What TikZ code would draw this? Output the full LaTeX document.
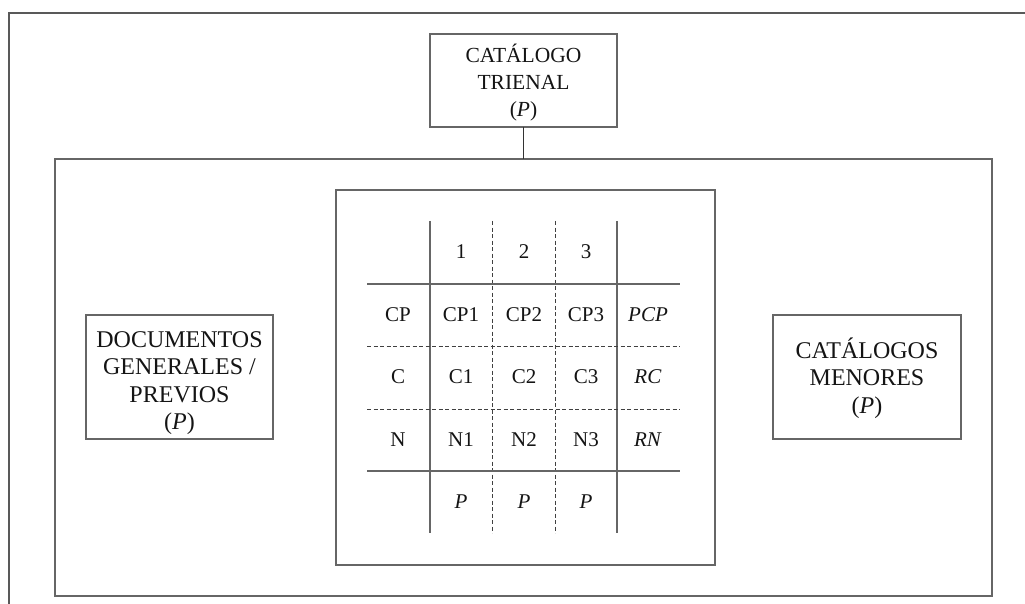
\documentclass[tikz,border=0pt]{standalone}
\usepackage{fontspec}
\setmainfont{Liberation Serif}
\begin{document}
\begin{tikzpicture}[x=1pt,y=-1pt,
  frame/.style={draw=black!65,line width=1.4pt},
  boxa/.style={draw=black!60,line width=1.2pt,inner sep=0pt,outer sep=0pt},
  txt/.style={align=center,inner sep=0pt,text=black!92},
  solidln/.style={draw=black!60,line width=1.1pt},
  dashln/.style={draw=black!75,line width=0.9pt,dash pattern=on 4pt off 2.5pt},
  cell/.style={font=\fontsize{21}{26}\selectfont,text=black!92,inner sep=0pt}]
\useasboundingbox (0,0) rectangle (1025,604);
% outer frame fragments
\coordinate (fr1) at (4,13);
\coordinate (fr2) at (1025,13);
\coordinate (fr3) at (9,604);
\draw[frame] (fr2) -- (fr1 -| fr3) -- (fr3);
% boxes
\node[boxa,minimum width=187pt,minimum height=93pt] (top) at (523.5,80.5) {};
\node[txt,font=\fontsize{21.5}{26.7}\selectfont] (toptxt) at ([yshift=-2pt]top.center) {CATÁLOGO\\TRIENAL\\(\textit{P})};
\node[boxa,minimum width=937pt,minimum height=437pt] (big) at (523.5,377.5) {};
\node[boxa,minimum width=379pt,minimum height=375pt] (inner) at (525.5,377.5) {};
\node[boxa,minimum width=187pt,minimum height=124pt] (left) at (179.5,377) {};
\node[txt,font=\fontsize{24}{27.3}\selectfont] (lefttxt) at ([yshift=-6pt]left.center) {DOCUMENTOS\\GENERALES /\\PREVIOS\\(\textit{P})};
\node[boxa,minimum width=188pt,minimum height=124pt] (right) at (867,377) {};
\node[txt,font=\fontsize{24}{27.3}\selectfont] (righttxt) at ([yshift=-1pt]right.center) {CATÁLOGOS\\MENORES\\(\textit{P})};
\draw[line width=0.9pt,black!80] (top.south) -- (big.north);
% table grid
\coordinate (c1) at (430,221);
\coordinate (c2) at (492,221);
\coordinate (c3) at (555,221);
\coordinate (c4) at (617,221);
\coordinate (b1) at (430,533);
\coordinate (b2) at (492,533);
\coordinate (b3) at (555,533);
\coordinate (b4) at (617,533);
\coordinate (h1a) at (367,284); \coordinate (h1b) at (680,284);
\coordinate (h2a) at (367,346); \coordinate (h2b) at (680,346);
\coordinate (h3a) at (367,409); \coordinate (h3b) at (680,409);
\coordinate (h4a) at (367,471); \coordinate (h4b) at (680,471);
\draw[solidln] (c1) -- (b1);
\draw[solidln] (c4) -- (b4);
\draw[dashln] (c2) -- (b2);
\draw[dashln] (c3) -- (b3);
\draw[solidln] (h1a) -- (h1b);
\draw[solidln] (h4a) -- (h4b);
\draw[dashln] (h2a) -- (h2b);
\draw[dashln] (h3a) -- (h3b);
% cells
\node[cell] (t1) at (461,252) {1};
\node[cell] (t2) at (524,252) {2};
\node[cell] (t3) at (586,252) {3};
\node[cell] (rCP) at (398,315) {CP};
\node[cell] (CP1) at (461,315) {CP1};
\node[cell] (CP2) at (524,315) {CP2};
\node[cell] (CP3) at (586,315) {CP3};
\node[cell] (PCP) at (648,315) {\textit{PCP}};
\node[cell] (rC) at (398,377) {C};
\node[cell] (C1) at (461,377) {C1};
\node[cell] (C2) at (524,377) {C2};
\node[cell] (C3) at (586,377) {C3};
\node[cell] (RC) at (648,377) {\textit{RC}};
\node[cell] (rN) at (398,440) {N};
\node[cell] (N1) at (461,440) {N1};
\node[cell] (N2) at (524,440) {N2};
\node[cell] (N3) at (586,440) {N3};
\node[cell] (RN) at (648,440) {\textit{RN}};
\node[cell] (P1) at (461,502) {\textit{P}};
\node[cell] (P2) at (524,502) {\textit{P}};
\node[cell] (P3) at (586,502) {\textit{P}};
\end{tikzpicture}
\end{document}
